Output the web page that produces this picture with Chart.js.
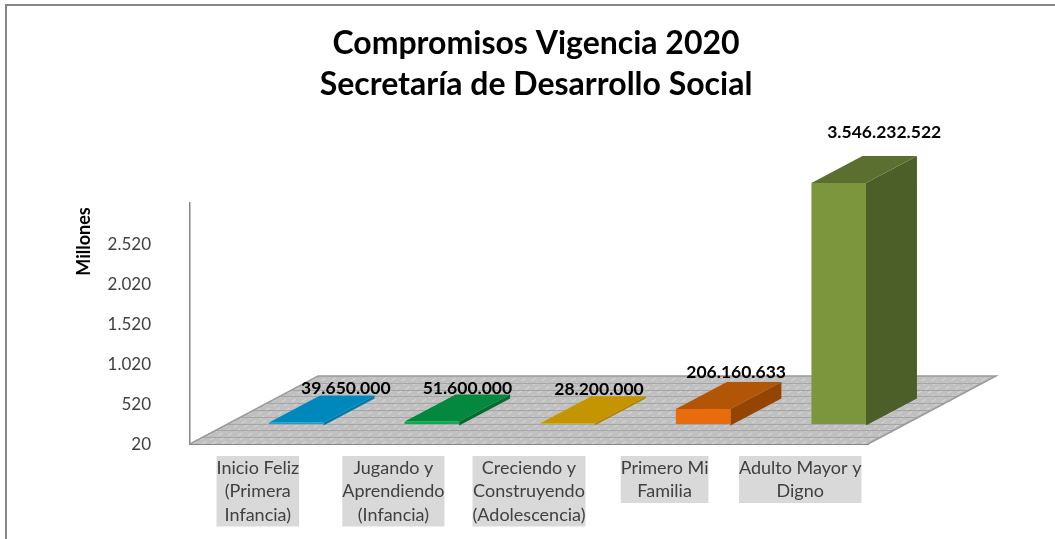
<!doctype html>
<html lang="es">
<head>
    <meta charset="utf-8">
    <title>Compromisos Vigencia 2020</title>
    <script src="https://cdn.jsdelivr.net/npm/chart.js@4"></script>
    <style>
        html, body { margin: 0; padding: 0; background: #ffffff; overflow: hidden; }
        #holder { position: absolute; left: 0; top: 0; width: 1055px; height: 539px; }
    </style>
</head>
<body>
    <div id="holder"><canvas id="chart-area" width="1055" height="539"></canvas></div>

    <script>
    var categories = [
        ["Inicio Feliz", "(Primera", "Infancia)"],
        ["Jugando y", "Aprendiendo", "(Infancia)"],
        ["Creciendo y", "Construyendo", "(Adolescencia)"],
        ["Primero Mi", "Familia"],
        ["Adulto Mayor y", "Digno"]
    ];
    var compromisos = [39650000, 51600000, 28200000, 206160633, 3546232522];
    var yTickLabels = ["20", "520", "1.020", "1.520", "2.020", "2.520"];

    var frontColors = ["#0FA3DC", "#05B04F", "#E0AC00", "#E96C0C", "#7B963C"];
    var topColors = ["#0087BC", "#04873E", "#C49500", "#B25507", "#5B7030"];
    var sideColors = ["#007BAA", "#036A30", "#B08600", "#944504", "#4D5F28"];

    // hand placed labels, relative to the top of each bar
    var labelOffsets = [[49.5, -34], [35.5, -33], [31.5, -34], [33, -37], [45.5, -51]];

    var FONT = "Lato, Carlito, sans-serif";
    var floorDepth = { x: 128, y: 68 };
    var barOffset = { x: 38.5, y: -20 };
    var barDepth = { x: 51, y: 27 };
    var catFontSize = 18;
    var catLineHeight = 23.5;
    var catPadding = 12;

    function poly(ctx, pts, fill) {
        ctx.beginPath();
        ctx.moveTo(pts[0][0], pts[0][1]);
        for (var i = 1; i < pts.length; i++) {
            ctx.lineTo(pts[i][0], pts[i][1]);
        }
        ctx.closePath();
        ctx.fillStyle = fill;
        ctx.fill();
    }

    var scene3d = {
        id: "scene3d",
        afterLayout: function(chart) {
            // title is centred on the whole picture, not on the plot
            chart.titleBlock.left = 17;
            chart.titleBlock.right = 1055;
        },
        beforeDraw: function(chart) {
            var ctx = chart.ctx;
            ctx.save();
            ctx.fillStyle = "#868686";
            ctx.fillRect(5, 4, 1050, 2);
            ctx.fillRect(5, 4, 2, 535);

            // grey boxes behind the category labels
            // (the ticks backdrop option repaints over each line, so not used)
            var xs = chart.scales.x;
            ctx.font = catFontSize + "px " + FONT;
            ctx.fillStyle = "#D9D9D9";
            categories.forEach(function(lines, i) {
                var w = 0;
                lines.forEach(function(line) {
                    w = Math.max(w, ctx.measureText(line).width);
                });
                var cx = xs.getPixelForTick(i);
                ctx.fillRect(cx - w / 2, xs.top + catPadding, w, lines.length * catLineHeight);
            });
            ctx.restore();
        },
        beforeDatasetsDraw: function(chart) {
            var ctx = chart.ctx;
            var a = chart.chartArea;
            var l = a.left, r = a.right, b = a.bottom;
            var dx = floorDepth.x, dy = floorDepth.y;
            ctx.save();
            poly(ctx, [[l, b], [r, b], [r + dx, b - dy], [l + dx, b - dy]], "#C0C0C0");

            ctx.beginPath();
            ctx.moveTo(l, b);
            ctx.lineTo(r, b);
            ctx.lineTo(r + dx, b - dy);
            ctx.lineTo(l + dx, b - dy);
            ctx.closePath();
            ctx.clip();

            // light hatch running back along the depth of the floor
            ctx.strokeStyle = "#D8D8D8";
            ctx.lineWidth = 1;
            ctx.setLineDash([5, 4]);
            for (var x = l - dx; x < r; x += 10) {
                ctx.beginPath();
                ctx.moveTo(x, b);
                ctx.lineTo(x + dx, b - dy);
                ctx.stroke();
            }
            ctx.setLineDash([]);

            ctx.strokeStyle = "#A6A6A6";
            for (var i = 1; i < 10; i++) {
                var t = i / 10;
                ctx.beginPath();
                ctx.moveTo(l + dx * t, Math.round(b - dy * t) + 0.5);
                ctx.lineTo(r + dx * t, Math.round(b - dy * t) + 0.5);
                ctx.stroke();
            }
            ctx.restore();

            ctx.save();
            ctx.strokeStyle = "#9A9A9A";
            ctx.lineWidth = 1.5;
            ctx.beginPath();
            ctx.moveTo(l, b);
            ctx.lineTo(l + dx, b - dy);
            ctx.lineTo(r + dx, b - dy);
            ctx.lineTo(r, b);
            ctx.stroke();
            ctx.restore();
        },
        beforeDatasetDraw: function(chart, args) {
            var ctx = chart.ctx;
            var top = chart.chartArea.top;
            ctx.save();
            ctx.translate(barOffset.x, barOffset.y);
            args.meta.data.forEach(function(bar, i) {
                var y = Math.max(bar.y, top);
                var left = bar.x - bar.width / 2;
                var right = bar.x + bar.width / 2;
                var dx = barDepth.x, dy = barDepth.y;
                poly(ctx, [[right, y], [right + dx, y - dy], [right + dx, bar.base - dy], [right, bar.base]], sideColors[i]);
                poly(ctx, [[left, y], [left + dx, y - dy], [right + dx, y - dy], [right, y]], topColors[i]);
            });
        },
        afterDatasetDraw: function(chart) {
            chart.ctx.restore();
        },
        afterDatasetsDraw: function(chart) {
            var ctx = chart.ctx;
            var top = chart.chartArea.top;
            var meta = chart.getDatasetMeta(0);
            ctx.save();
            ctx.font = "bold 17.5px " + FONT;
            ctx.fillStyle = "#000000";
            ctx.textAlign = "center";
            ctx.textBaseline = "middle";
            meta.data.forEach(function(bar, i) {
                var y = Math.max(bar.y, top) + barOffset.y;
                var text = compromisos[i].toLocaleString("de-DE");
                ctx.fillText(text, bar.x + barOffset.x + labelOffsets[i][0], y + labelOffsets[i][1]);
            });
            ctx.restore();
        }
    };

    var config = {
        type: "bar",
        data: {
            labels: categories,
            datasets: [{
                label: "Compromisos",
                data: compromisos,
                backgroundColor: frontColors,
                borderWidth: 0,
                barPercentage: 0.402,
                categoryPercentage: 1
            }]
        },
        plugins: [scene3d],
        options: {
            responsive: false,
            animation: false,
            layout: { padding: { left: 0, right: 187, top: 0, bottom: 0 } },
            plugins: {
                legend: { display: false },
                tooltip: { enabled: false },
                title: {
                    display: true,
                    text: ["Compromisos Vigencia 2020", "Secretaría de Desarrollo Social"],
                    color: "#000000",
                    font: { family: FONT, size: 32, weight: "bold", lineHeight: 1.28 },
                    padding: { top: 23, bottom: 98 }
                }
            },
            scales: {
                x: {
                    grid: { display: false, drawTicks: false },
                    border: { display: true, color: "#868686", width: 2 },
                    ticks: {
                        color: "#404040",
                        font: { family: FONT, size: catFontSize, lineHeight: catLineHeight / catFontSize },
                        padding: catPadding,
                        maxRotation: 0,
                        minRotation: 0,
                        autoSkip: false
                    },
                    afterFit: function(scale) { scale.height = 95; }
                },
                y: {
                    min: 20000000,
                    max: 3020000000,
                    grid: { display: false, drawTicks: false },
                    border: { display: true, color: "#868686", width: 1.5 },
                    ticks: {
                        stepSize: 500000000,
                        color: "#404040",
                        font: { family: FONT, size: 17 },
                        padding: 39,
                        labelOffset: 1,
                        callback: function(value, index) { return yTickLabels[index]; }
                    },
                    title: {
                        display: true,
                        text: "Millones ",
                        align: "end",
                        color: "#000000",
                        font: { family: FONT, size: 18, weight: "bold" },
                        padding: { top: 73, bottom: 0 }
                    },
                    afterFit: function(scale) { scale.width = 190; }
                }
            }
        }
    };

    var ctx = document.getElementById("chart-area").getContext("2d");
    window.myBar = new Chart(ctx, config);
    </script>
</body>
</html>
